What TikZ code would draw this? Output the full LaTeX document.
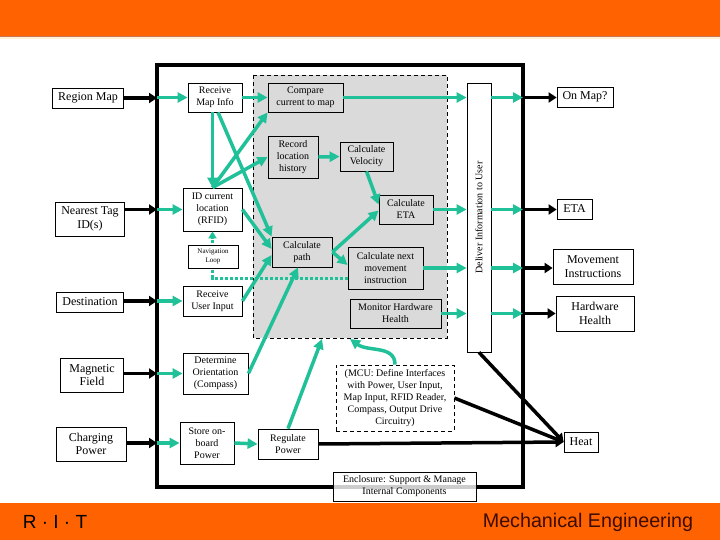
\documentclass[tikz,border=0pt]{standalone}
\usepackage{fontspec}
\setmainfont{Liberation Serif}
\newfontfamily\sansf{Liberation Sans}
\usetikzlibrary{arrows.meta}
\definecolor{tgreen}{RGB}{32,192,152}
\definecolor{boxgrey}{RGB}{218,218,218}
\definecolor{ritorange}{RGB}{255,98,0}
\definecolor{mebrown}{RGB}{60,12,0}
\tikzset{
  wbox/.style={draw, line width=0.8pt, fill=white, inner sep=0pt, align=center, font=\fontsize{10}{12}\selectfont},
  gbox/.style={wbox, fill=boxgrey},
  obox/.style={wbox, font=\fontsize{12}{13.5}\selectfont},
  garr/.style={draw=tgreen, line width=3.5pt, -{Triangle[length=10pt,width=10pt]}},
  barr/.style={draw=black, line width=3.5pt, -{Triangle[length=8pt,width=10pt]}},
  gdot/.style={draw=tgreen, line width=3pt, dash pattern=on 3pt off 2pt, -{Triangle[length=7pt,width=8pt]}},
}
\begin{document}
\begin{tikzpicture}[x=1pt,y=-1pt]
\useasboundingbox (0,0) rectangle (720,540);
\fill[white] (0,0) rectangle (720,540);
% bands
\fill[ritorange] (0,0) rectangle (720,36);
\draw[line width=1pt, color={rgb,255:red,200;green,120;blue,80}] (0,36.5) -- (720,36.5);
\draw[line width=1.5pt, color={rgb,255:red,255;green,240;blue,215}] (0,38) -- (720,38);
\fill[ritorange] (0,503) rectangle (720,540);
\node[font=\sansf\fontsize{19}{20}\selectfont, text=black] (rit) at (55,522) {R · I · T};
\node[font=\sansf\fontsize{19.7}{20}\selectfont, text=mebrown] (me) at (588,522) {Mechanical Engineering};
% main border and core region
\draw[line width=4.5pt] (157,65) rectangle (523,487);
\coordinate (bL) at (157,0);
\coordinate (bR) at (523,0);
\draw[line width=0.9pt, dash pattern=on 4pt off 3pt, fill=boxgrey] (253,75) rectangle (447,338);
\coordinate (coreA) at (322,339);
\coordinate (coreB) at (350,339);
% outer left boxes
\node[obox, minimum width=71, minimum height=20] (regionmap) at (88,98) {Region Map};
\node[obox, minimum width=69, minimum height=34] (nearest) at (90,219) {Nearest Tag\\ID(s)};
\node[obox, minimum width=67, minimum height=20] (destination) at (90,302) {Destination};
\node[obox, minimum width=63, minimum height=34] (magnetic) at (92,375) {Magnetic\\Field};
\node[obox, minimum width=70, minimum height=34] (charging) at (91,444) {Charging\\Power};
% inner boxes
\node[wbox, minimum width=54, minimum height=29] (receive) at (215,97.5) {Receive\\Map Info};
\node[gbox, minimum width=75, minimum height=29] (compare) at (305.5,97.5) {Compare\\current to map};
\node[gbox, minimum width=50, minimum height=42] (record) at (293,157) {Record\\location\\history};
\node[gbox, minimum width=53, minimum height=29] (velocity) at (366.5,156.5) {Calculate\\Velocity};
\node[gbox, minimum width=54, minimum height=29] (eta) at (406,209.5) {Calculate\\ETA};
\node[wbox, minimum width=59, minimum height=43] (idloc) at (212.5,209.5) {ID current\\location\\(RFID)};
\node[wbox, minimum width=59, minimum height=30] (userin) at (212.5,301) {Receive\\User Input};
\node[gbox, minimum width=60, minimum height=30] (calcpath) at (302,252) {Calculate\\path};
\node[gbox, minimum width=75, minimum height=42] (calcnext) at (385.5,268) {Calculate next\\movement\\instruction};
\node[gbox, minimum width=91, minimum height=29] (monitor) at (395.5,313.5) {Monitor Hardware\\Health};
\node[wbox, minimum width=65, minimum height=41] (orient) at (215.5,373.5) {Determine\\Orientation\\(Compass)};
\node[wbox, minimum width=54, minimum height=42] (store) at (207,443) {Store on-\\board\\Power};
\node[wbox, minimum width=60, minimum height=30] (regulate) at (288,444) {Regulate\\Power};
\node[wbox, dash pattern=on 4pt off 3pt, minimum width=118, minimum height=66] (mcu) at (395,398) {(MCU: Define Interfaces\\with Power, User Input,\\Map Input, RFID Reader,\\Compass, Output Drive\\Circuitry)};
\node[wbox, minimum width=24, minimum height=269] (deliver) at (479,217.5) {\rotatebox{90}{Deliver Information to User}};
% outer right boxes
\node[obox, minimum width=56, minimum height=20] (onmap) at (585,97) {On Map?};
\node[obox, minimum width=35, minimum height=20] (etaout) at (574.5,209) {ETA};
\node[obox, minimum width=80, minimum height=35] (movement) at (593,266.5) {Movement\\Instructions};
\node[obox, minimum width=78, minimum height=35] (hwhealth) at (595,313.5) {Hardware\\Health};
\node[obox, minimum width=34, minimum height=20] (heat) at (581,442) {Heat};
% navigation loop (dotted) and its label box
\draw[gdot] ([yshift=-10pt]calcnext.west) -| (idloc.south);
\node[wbox, font=\fontsize{7}{8.5}\selectfont, minimum width=50, minimum height=23] (navloop) at (213,256.5) {Navigation\\Loop};
% green arrows
\draw[garr] (bL |- receive) -- (receive.west);
\draw[garr] (receive.east) -- (compare.west);
\draw[garr] (idloc.north |- receive.south) -- (idloc.north);
\draw[garr] ([xshift=3pt]receive.south) -- (calcpath.north west);
\draw[garr] (idloc.north) -- (compare.south west);
\draw[garr] (idloc.north) -- (record.west);
\draw[garr] (bL |- idloc) -- (idloc.west);
\draw[garr] (idloc.east) -- ([yshift=3pt]calcpath.west);
\draw[garr] (bL |- userin) -- (userin.west);
\draw[garr] (userin.east) -- ([yshift=-3pt]calcpath.west);
\draw[garr] (bL |- orient) -- (orient.west);
\draw[garr] (orient.east) -- ([xshift=-4pt]calcpath.south);
\draw[garr] (bL |- store) -- (store.west);
\draw[garr] (store.east) -- (regulate.west);
\draw[garr] (regulate.north) -- (coreA);
\draw[garr] (mcu.north) .. controls (395,345) and (368,352) .. (coreB);
\draw[garr] (record.east) -- (velocity.west);
\draw[garr] (velocity.south) -- ([yshift=5pt]eta.west);
\draw[garr] (calcpath.east) -- ([yshift=-1pt]eta.west);
\draw[garr] (calcpath.east) -- ([yshift=3pt]calcnext.west);
\draw[garr] (compare.east) -- (compare.east -| deliver.west);
\draw[garr] (eta.east) -- (eta.east -| deliver.west);
\draw[garr] (calcnext.east) -- (calcnext.east -| deliver.west);
\draw[garr] (monitor.east) -- (monitor.east -| deliver.west);
\draw[garr] (deliver.east |- compare) -- (bR |- compare);
\draw[garr] (deliver.east |- eta) -- (bR |- eta);
\draw[garr] (deliver.east |- calcnext) -- (bR |- calcnext);
\draw[garr] (deliver.east |- monitor) -- (bR |- monitor);
% black arrows
\draw[barr] (regionmap.east) -- (bL |- regionmap);
\draw[barr] (nearest.east |- idloc) -- (bL |- idloc);
\draw[barr] (destination.east |- userin) -- (bL |- userin);
\draw[barr] (magnetic.east |- orient) -- (bL |- orient);
\draw[barr] (charging.east |- store) -- (bL |- store);
\draw[barr] (bR |- compare) -- (onmap.west |- compare);
\draw[barr] (bR |- eta) -- (etaout.west |- eta);
\draw[barr] (bR |- calcnext) -- (movement.west |- calcnext);
\draw[barr] (bR |- monitor) -- (hwhealth.west |- monitor);
\draw[barr] (deliver.south) -- (heat.west);
\draw[barr] (mcu.east) -- (heat.west);
\draw[barr] (regulate.east) -- (heat.west);
% enclosure box over the border
\node[wbox, fill opacity=0.8, text opacity=1, minimum width=143, minimum height=29] (enclosure) at (404.5,486.5) {Enclosure: Support \& Manage\\Internal Components};
\end{tikzpicture}
\end{document}
